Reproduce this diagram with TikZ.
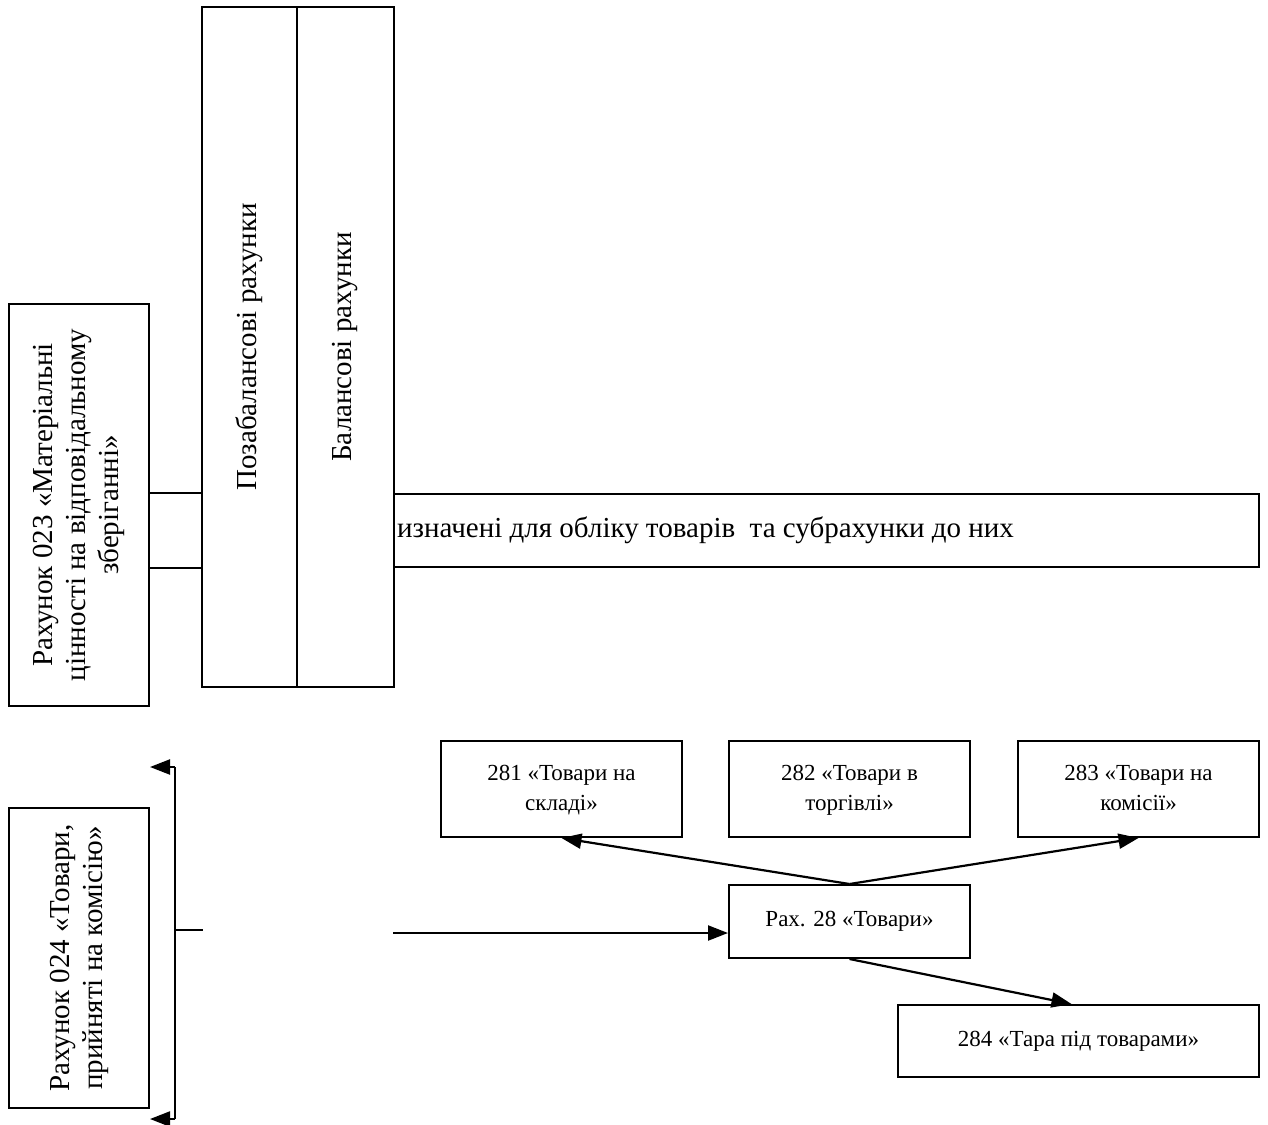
\documentclass[tikz,border=0pt]{standalone}
\usepackage{fontspec}
\setmainfont{Liberation Serif}
\usetikzlibrary{arrows.meta}
\begin{document}
\begin{tikzpicture}[x=1pt,y=-1pt,
  box/.style={draw, line width=2pt, inner sep=0pt, align=center},
  big/.style={font=\fontsize{29}{33}\selectfont},
  small/.style={font=\fontsize{23}{30}\selectfont},
  conn/.style={line width=2.2pt},
  arr/.style={conn, -{Triangle[length=20pt,width=15pt]}}]
\useasboundingbox (0,0) rectangle (1268,1124);

% top-left group
\node[box, big, rotate=90, minimum width=402pt, minimum height=140pt] (b023) at (79,505)
  {Рахунок 023 «Матеріальні\\цінності на відповідальному\\зберіганні»};
\node[box, big, rotate=90, minimum width=680pt, minimum height=95pt] (poza) at (249.5,347) {Позабалансові рахунки};
\node[box, big, rotate=90, minimum width=680pt, minimum height=97pt] (bal) at (345.5,347) {Балансові рахунки};
\node[box, minimum width=865pt, minimum height=73pt] (long) at (826.5,530.5) {};
\node[big, anchor=west, inner sep=0pt] (longtxt) at (397,530) {изначені для обліку товарів~ та субрахунки до них};

\draw[conn] (b023.south |- long.north) -- (poza.north |- long.north);
\draw[conn] (b023.south |- long.south) -- (poza.north |- long.south);

% bottom-left group
\node[box, big, rotate=90, minimum width=300pt, minimum height=140pt] (b024) at (79,958)
  {Рахунок 024 «Товари,\\прийняті на комісію»};
\coordinate (bt) at (175,767);
\coordinate (bb) at (175,1119);
\coordinate (bm) at (175,930);
\coordinate (bmr) at (203,930);
\coordinate (rin) at (393,933);
\draw[conn] (bt) -- (bb);
\draw[arr] (bt) -- (b024.south |- bt);
\draw[arr] (bb) -- (b024.south |- bb);
\draw[conn] (bm) -- (bmr);

% accounts 28x
\node[box, small, minimum width=241pt, minimum height=96pt] (s281) at (561.5,789) {\strut 281 «Товари на\\\strut складі»};
\node[box, small, minimum width=241pt, minimum height=96pt] (s282) at (849.5,789) {\strut 282 «Товари в\\\strut торгівлі»};
\node[box, small, minimum width=241pt, minimum height=96pt] (s283) at (1138.5,789) {\strut 283 «Товари на\\\strut комісії»};
\node[box, small, minimum width=241pt, minimum height=73pt] (rax) at (849.5,921.5) {Рах. 28 «Товари»};
\node[box, small, minimum width=361pt, minimum height=72pt] (s284) at (1078.5,1041) {284 «Тара під товарами»};

\draw[arr] (rin) -- (rax.west |- rin);
\draw[arr] (rax.north) -- (s281.south);
\draw[arr] (rax.north) -- (s283.south);
\draw[arr] (rax.south) -- ([xshift=-7pt]s284.north);
\end{tikzpicture}
\end{document}
